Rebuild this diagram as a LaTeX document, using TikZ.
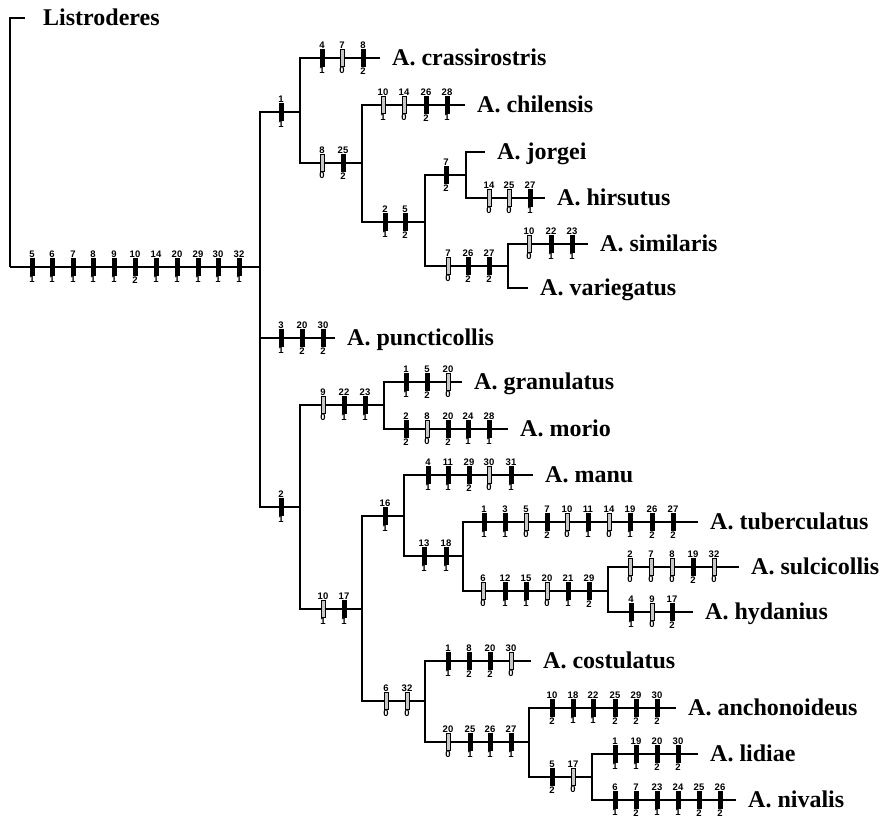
\documentclass[tikz,border=0pt]{standalone}
\usepackage{fontspec}
\setmainfont{Liberation Serif}
\newfontfamily\numfamily{Liberation Sans}

\begin{document}
\begin{tikzpicture}[x=1pt, y=-1pt]
    \tikzstyle{branch} = [line width=1.9pt]
    \tikzstyle{taxon} = [anchor=west, inner xsep=12pt, inner ysep=0pt, text height=15pt, text depth=0pt, font=\fontsize{24}{27}\selectfont\bfseries]
    \tikzstyle{num} = [inner sep=0pt, font=\numfamily\bfseries\fontsize{9.5}{10}\selectfont]
    \tikzstyle{syn} = [rectangle, fill=black, minimum width=5pt, minimum height=18pt, inner sep=0pt, label distance=4.5pt]
    \tikzstyle{rev} = [rectangle, draw=black, line width=0.8pt, fill=black!22, minimum width=3.8pt, minimum height=17pt, inner sep=0pt, label distance=5pt]

    \useasboundingbox (0,0) rectangle (885,822);

    \coordinate (root) at (10,267);
    \coordinate (n1) at (260,267);
    \coordinate (nA) at (300,112);
    \coordinate (nC) at (362,163);
    \coordinate (nD) at (425,222);
    \coordinate (nE) at (466,175);
    \coordinate (nF) at (508,266);
    \coordinate (nB) at (300,507);
    \coordinate (nG) at (384,405);
    \coordinate (nH) at (362,609);
    \coordinate (nI) at (404,516);
    \coordinate (nK) at (463,556);
    \coordinate (nL) at (608,591);
    \coordinate (nJ) at (425,701);
    \coordinate (nM) at (529,742);
    \coordinate (nN) at (592,777);

    \node (listr) [taxon, inner xsep=18pt] at (25,18) {Listroderes};
    \node (crass) [taxon] at (380,58) {A. crassirostris};
    \node (chil) [taxon] at (465,105) {A. chilensis};
    \node (jorg) [taxon] at (485,152) {A. jorgei};
    \node (hirs) [taxon] at (545,198) {A. hirsutus};
    \node (simil) [taxon] at (588,244) {A. similaris};
    \node (varieg) [taxon] at (528,288) {A. variegatus};
    \node (punct) [taxon] at (335,338) {A. puncticollis};
    \node (gran) [taxon] at (462,382) {A. granulatus};
    \node (morio) [taxon] at (508,429) {A. morio};
    \node (manu) [taxon] at (533,475) {A. manu};
    \node (tuber) [taxon] at (698,522) {A. tuberculatus};
    \node (sulc) [taxon] at (739,567) {A. sulcicollis};
    \node (hyd) [taxon] at (693,612) {A. hydanius};
    \node (cost) [taxon] at (531,661) {A. costulatus};
    \node (anch) [taxon] at (676,708) {A. anchonoideus};
    \node (lid) [taxon] at (698,754) {A. lidiae};
    \node (niv) [taxon] at (736,800) {A. nivalis};

    \draw [branch] (root) |- (listr.west);
    \draw [branch] (root) -- (n1);
    \draw [branch] (n1) |- (nA);
    \draw [branch] (n1) |- (punct.west);
    \draw [branch] (n1) |- (nB);
    \draw [branch] (nA) |- (crass.west);
    \draw [branch] (nA) |- (nC);
    \draw [branch] (nC) |- (chil.west);
    \draw [branch] (nC) |- (nD);
    \draw [branch] (nD) |- (nE);
    \draw [branch] (nD) |- (nF);
    \draw [branch] (nE) |- (jorg.west);
    \draw [branch] (nE) |- (hirs.west);
    \draw [branch] (nF) |- (simil.west);
    \draw [branch] (nF) |- (varieg.west);
    \draw [branch] (nB) |- (nG);
    \draw [branch] (nB) |- (nH);
    \draw [branch] (nG) |- (gran.west);
    \draw [branch] (nG) |- (morio.west);
    \draw [branch] (nH) |- (nI);
    \draw [branch] (nH) |- (nJ);
    \draw [branch] (nI) |- (manu.west);
    \draw [branch] (nI) |- (nK);
    \draw [branch] (nK) |- (tuber.west);
    \draw [branch] (nK) |- (nL);
    \draw [branch] (nL) |- (sulc.west);
    \draw [branch] (nL) |- (hyd.west);
    \draw [branch] (nJ) |- (cost.west);
    \draw [branch] (nJ) |- (nM);
    \draw [branch] (nM) |- (anch.west);
    \draw [branch] (nM) |- (nN);
    \draw [branch] (nN) |- (lid.west);
    \draw [branch] (nN) |- (niv.west);

    \foreach \x/\c/\s/\t in {32/5/1/syn, 52/6/1/syn, 73/7/1/syn, 93/8/1/syn, 114/9/1/syn, 135/10/2/syn, 156/14/1/syn, 177/20/1/syn, 198/29/1/syn, 218/30/1/syn, 239/32/1/syn}
        \node (r\c) [\t, label={[num]above:\c}, label={[num]below:\s}] at (\x,267) {};
    \foreach \x/\c/\s/\t in {281/1/1/syn}
        \node (a\c) [\t, label={[num]above:\c}, label={[num]below:\s}] at (\x,112) {};
    \foreach \x/\c/\s/\t in {322/4/1/syn, 342/7/0/rev, 363/8/2/syn}
        \node (cr\c) [\t, label={[num]above:\c}, label={[num]below:\s}] at (\x,58) {};
    \foreach \x/\c/\s/\t in {322/8/0/rev, 343/25/2/syn}
        \node (c\c) [\t, label={[num]above:\c}, label={[num]below:\s}] at (\x,163) {};
    \foreach \x/\c/\s/\t in {383/10/1/rev, 404/14/0/rev, 426/26/2/syn, 447/28/1/syn}
        \node (ch\c) [\t, label={[num]above:\c}, label={[num]below:\s}] at (\x,105) {};
    \foreach \x/\c/\s/\t in {385/2/1/syn, 405/5/2/syn}
        \node (d\c) [\t, label={[num]above:\c}, label={[num]below:\s}] at (\x,222) {};
    \foreach \x/\c/\s/\t in {446/7/2/syn}
        \node (e\c) [\t, label={[num]above:\c}, label={[num]below:\s}] at (\x,175) {};
    \foreach \x/\c/\s/\t in {489/14/0/rev, 509/25/0/rev, 530/27/1/syn}
        \node (hi\c) [\t, label={[num]above:\c}, label={[num]below:\s}] at (\x,198) {};
    \foreach \x/\c/\s/\t in {448/7/0/rev, 468/26/2/syn, 489/27/2/syn}
        \node (f\c) [\t, label={[num]above:\c}, label={[num]below:\s}] at (\x,266) {};
    \foreach \x/\c/\s/\t in {529/10/0/rev, 551/22/1/syn, 572/23/1/syn}
        \node (si\c) [\t, label={[num]above:\c}, label={[num]below:\s}] at (\x,244) {};
    \foreach \x/\c/\s/\t in {281/3/1/syn, 302/20/2/syn, 323/30/2/syn}
        \node (pu\c) [\t, label={[num]above:\c}, label={[num]below:\s}] at (\x,338) {};
    \foreach \x/\c/\s/\t in {281/2/1/syn}
        \node (b\c) [\t, label={[num]above:\c}, label={[num]below:\s}] at (\x,507) {};
    \foreach \x/\c/\s/\t in {323/9/0/rev, 344/22/1/syn, 365/23/1/syn}
        \node (g\c) [\t, label={[num]above:\c}, label={[num]below:\s}] at (\x,405) {};
    \foreach \x/\c/\s/\t in {406/1/1/syn, 427/5/2/syn, 448/20/0/rev}
        \node (gr\c) [\t, label={[num]above:\c}, label={[num]below:\s}] at (\x,382) {};
    \foreach \x/\c/\s/\t in {406/2/2/syn, 427/8/0/rev, 448/20/2/syn, 468/24/1/syn, 489/28/1/syn}
        \node (mo\c) [\t, label={[num]above:\c}, label={[num]below:\s}] at (\x,429) {};
    \foreach \x/\c/\s/\t in {323/10/1/rev, 344/17/1/syn}
        \node (h\c) [\t, label={[num]above:\c}, label={[num]below:\s}] at (\x,609) {};
    \foreach \x/\c/\s/\t in {385/16/1/syn}
        \node (i\c) [\t, label={[num]above:\c}, label={[num]below:\s}] at (\x,516) {};
    \foreach \x/\c/\s/\t in {428/4/1/syn, 448/11/1/syn, 469/29/2/syn, 489/30/0/rev, 511/31/1/syn}
        \node (ma\c) [\t, label={[num]above:\c}, label={[num]below:\s}] at (\x,475) {};
    \foreach \x/\c/\s/\t in {424/13/1/syn, 446/18/1/syn}
        \node (k\c) [\t, label={[num]above:\c}, label={[num]below:\s}] at (\x,556) {};
    \foreach \x/\c/\s/\t in {484/1/1/syn, 505/3/1/syn, 526/5/0/rev, 547/7/2/syn, 567/10/0/rev, 588/11/1/syn, 609/14/0/rev, 630/19/1/syn, 652/26/2/syn, 673/27/2/syn}
        \node (tu\c) [\t, label={[num]above:\c}, label={[num]below:\s}] at (\x,522) {};
    \foreach \x/\c/\s/\t in {483/6/0/rev, 505/12/1/syn, 526/15/1/syn, 547/20/0/rev, 568/21/1/syn, 589/29/2/syn}
        \node (l\c) [\t, label={[num]above:\c}, label={[num]below:\s}] at (\x,591) {};
    \foreach \x/\c/\s/\t in {630/2/0/rev, 651/7/0/rev, 672/8/0/rev, 693/19/2/syn, 714/32/0/rev}
        \node (su\c) [\t, label={[num]above:\c}, label={[num]below:\s}] at (\x,567) {};
    \foreach \x/\c/\s/\t in {631/4/1/syn, 652/9/0/rev, 672/17/2/syn}
        \node (hy\c) [\t, label={[num]above:\c}, label={[num]below:\s}] at (\x,612) {};
    \foreach \x/\c/\s/\t in {386/6/0/rev, 407/32/0/rev}
        \node (j\c) [\t, label={[num]above:\c}, label={[num]below:\s}] at (\x,701) {};
    \foreach \x/\c/\s/\t in {448/1/1/syn, 469/8/2/syn, 490/20/2/syn, 511/30/0/rev}
        \node (co\c) [\t, label={[num]above:\c}, label={[num]below:\s}] at (\x,661) {};
    \foreach \x/\c/\s/\t in {448/20/0/rev, 470/25/1/syn, 490/26/1/syn, 511/27/1/syn}
        \node (m\c) [\t, label={[num]above:\c}, label={[num]below:\s}] at (\x,742) {};
    \foreach \x/\c/\s/\t in {552/10/2/syn, 573/18/1/syn, 593/22/1/syn, 615/25/2/syn, 636/29/2/syn, 657/30/2/syn}
        \node (an\c) [\t, label={[num]above:\c}, label={[num]below:\s}] at (\x,708) {};
    \foreach \x/\c/\s/\t in {552/5/2/syn, 573/17/0/rev}
        \node (n\c) [\t, label={[num]above:\c}, label={[num]below:\s}] at (\x,777) {};
    \foreach \x/\c/\s/\t in {615/1/1/syn, 636/19/1/syn, 657/20/2/syn, 678/30/2/syn}
        \node (li\c) [\t, label={[num]above:\c}, label={[num]below:\s}] at (\x,754) {};
    \foreach \x/\c/\s/\t in {615/6/1/syn, 636/7/2/syn, 657/23/1/syn, 678/24/1/syn, 699/25/2/syn, 720/26/2/syn}
        \node (ni\c) [\t, label={[num]above:\c}, label={[num]below:\s}] at (\x,800) {};
\end{tikzpicture}
\end{document}
